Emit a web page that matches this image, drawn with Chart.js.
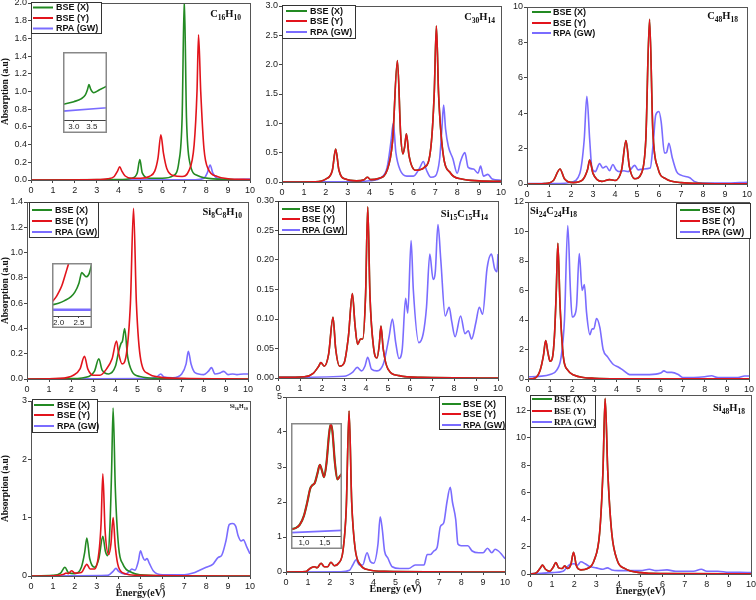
<!DOCTYPE html>
<html><head><meta charset="utf-8">
<script src="https://cdn.jsdelivr.net/npm/chart.js@4/dist/chart.umd.min.js"></script>
<style>
html,body{margin:0;padding:0;background:#fff;overflow:hidden;width:756px;height:600px;position:relative}
canvas{position:absolute}
</style></head><body>
<script>
const GREEN = '#238a23', RED = '#e2141c', BLUE = '#7a6cff';
const seriesLabels = ['BSE (X)', 'BSE (Y)', 'RPA (GW)'];

// ---- C16H10 ----
const c16_bseX = [[0,0],[4,0.005],[4.6,0.02],[4.85,0.08],[4.97,0.23],[5.08,0.08],[5.4,0.02],[6,0.02],[6.5,0.05],[6.75,0.2],[6.9,0.7],[7.0,2.05],[7.1,0.7],[7.25,0.2],[7.6,0.05],[8.5,0.01],[10,0]];
const c16_bseY = [[0,0],[3,0.005],[3.5,0.015],[3.8,0.04],[3.95,0.1],[4.05,0.15],[4.15,0.1],[4.3,0.045],[4.6,0.02],[5.0,0.02],[5.4,0.04],[5.65,0.1],[5.8,0.25],[5.93,0.51],[6.05,0.3],[6.2,0.13],[6.5,0.05],[6.9,0.04],[7.2,0.1],[7.45,0.4],[7.58,1.0],[7.65,1.64],[7.75,1.0],[7.9,0.35],[8.1,0.12],[8.5,0.04],[9,0.015],[10,0.005]];
const c16_rpa = [[0,0],[7.5,0.003],[7.9,0.02],[8.05,0.08],[8.18,0.17],[8.3,0.08],[8.5,0.02],[9,0.005],[10,0.01]];
const c16_inset_bseX = [[2.7,0.23],[3.0,0.27],[3.2,0.31],[3.32,0.37],[3.38,0.45],[3.42,0.52],[3.47,0.45],[3.55,0.4],[3.7,0.44],[3.92,0.5]];
const c16_inset_rpa = [[2.7,0.13],[3.92,0.18]];

// ---- C30H14 ----
const c30_bse = [[0,0],[1.5,0.005],[2.0,0.05],[2.3,0.2],[2.45,0.56],[2.6,0.2],[2.9,0.05],[3.4,0.02],[3.75,0.04],[3.9,0.08],[4.05,0.04],[4.4,0.06],[4.8,0.2],[5.05,0.7],[5.27,2.07],[5.42,0.8],[5.52,0.48],[5.6,0.6],[5.68,0.82],[5.8,0.45],[6.1,0.2],[6.5,0.25],[6.8,0.6],[6.95,1.5],[7.05,2.66],[7.15,1.5],[7.35,0.5],[7.7,0.15],[8.2,0.05],[9,0.02],[10,0.01]];
const c30_rpa = [[0,0.005],[3,0.005],[4,0.02],[4.5,0.07],[4.8,0.25],[4.98,0.7],[5.08,1.0],[5.2,0.5],[5.4,0.2],[5.7,0.1],[6.0,0.1],[6.3,0.25],[6.45,0.35],[6.6,0.2],[6.8,0.08],[7.0,0.1],[7.2,0.4],[7.3,0.9],[7.38,1.31],[7.47,0.9],[7.6,0.6],[7.8,0.4],[8.0,0.15],[8.15,0.35],[8.35,0.5],[8.5,0.25],[8.75,0.22],[8.95,0.15],[9.07,0.27],[9.2,0.1],[9.4,0.13],[9.6,0.05],[10,0.03]];

// ---- C48H18 ----
const c48_bse = [[0,0],[0.8,0.02],[1.2,0.2],[1.5,0.85],[1.7,0.3],[2.1,0.08],[2.5,0.2],[2.75,0.8],[2.85,1.35],[3.0,0.6],[3.4,0.15],[3.75,0.25],[4.0,0.2],[4.3,0.8],[4.5,2.45],[4.65,1.0],[4.9,0.3],[5.2,0.6],[5.4,2.5],[5.57,9.3],[5.72,3.0],[5.95,0.9],[6.3,0.3],[7,0.08],[8,0.03],[10,0.01]];
const c48_rpa = [[0,0.02],[1.5,0.03],[2.0,0.1],[2.4,0.6],[2.6,2.5],[2.72,4.95],[2.85,2.5],[2.95,0.9],[3.1,0.7],[3.3,1.15],[3.45,0.9],[3.6,1.0],[3.75,0.75],[3.9,1.1],[4.05,0.8],[4.2,0.7],[4.4,0.75],[4.6,0.7],[4.9,1.05],[5.05,0.8],[5.3,0.85],[5.6,0.9],[5.75,2.5],[5.85,3.9],[6.0,4.1],[6.1,3.5],[6.25,1.75],[6.35,1.8],[6.45,2.3],[6.6,1.5],[6.8,0.7],[7.0,0.5],[7.4,0.35],[7.6,0.15],[8,0.05],[9,0.05],[10,0.1]];

// ---- Si8C8H10 ----
const si8_bseX = [[0,0],[2,0.003],[2.8,0.02],[3.05,0.06],[3.25,0.16],[3.4,0.07],[3.7,0.04],[4.0,0.1],[4.15,0.22],[4.25,0.28],[4.32,0.3],[4.42,0.4],[4.55,0.18],[4.75,0.06],[5.1,0.02],[6,0.005],[10,0]];
const si8_bseY = [[0,0],[1.5,0.005],[2.1,0.03],[2.4,0.08],[2.6,0.18],[2.75,0.08],[3.0,0.03],[3.3,0.03],[3.6,0.08],[3.85,0.16],[4.05,0.3],[4.15,0.2],[4.3,0.12],[4.5,0.2],[4.68,0.6],[4.82,1.35],[4.95,0.6],[5.15,0.15],[5.5,0.04],[6,0.015],[7,0.005],[10,0]];
const si8_rpa = [[0,0],[5.5,0.003],[5.9,0.02],[6.05,0.04],[6.2,0.015],[6.6,0.01],[7.0,0.04],[7.2,0.12],[7.3,0.22],[7.42,0.12],[7.6,0.05],[8.0,0.035],[8.2,0.06],[8.35,0.09],[8.5,0.04],[8.7,0.045],[8.9,0.06],[9.1,0.035],[9.3,0.04],[9.5,0.035],[9.8,0.04],[10,0.04]];
const si8_inset_bseX = [[1.84,0.21],[2.0,0.24],[2.15,0.29],[2.3,0.36],[2.4,0.45],[2.5,0.62],[2.57,0.82],[2.62,0.78],[2.68,0.74],[2.75,0.8],[2.82,1.0]];
const si8_inset_bseY = [[1.84,0.26],[1.95,0.37],[2.0,0.44],[2.08,0.57],[2.15,0.74],[2.22,0.92],[2.27,1.05]];
const si8_inset_rpa = [[1.84,0.12],[2.82,0.12]];

// ---- Si15C15H14 ----
const si15_bse = [[0,0.001],[1.2,0.002],[1.6,0.008],[1.85,0.02],[1.95,0.026],[2.1,0.02],[2.3,0.04],[2.5,0.103],[2.62,0.05],[2.8,0.02],[3.0,0.025],[3.2,0.07],[3.38,0.143],[3.5,0.09],[3.62,0.057],[3.75,0.066],[3.85,0.066],[3.98,0.14],[4.08,0.29],[4.18,0.14],[4.35,0.05],[4.5,0.034],[4.6,0.055],[4.68,0.088],[4.78,0.05],[5.0,0.015],[5.5,0.004],[6.5,0.001],[10,0]];
const si15_rpa = [[0,0.001],[3,0.003],[3.4,0.01],[3.6,0.018],[3.8,0.012],[3.95,0.02],[4.08,0.035],[4.25,0.015],[4.5,0.012],[4.8,0.025],[5.0,0.06],[5.05,0.07],[5.2,0.1],[5.35,0.06],[5.5,0.033],[5.65,0.05],[5.8,0.135],[5.9,0.11],[6.05,0.233],[6.15,0.15],[6.4,0.06],[6.6,0.075],[6.75,0.12],[6.9,0.21],[7.05,0.167],[7.15,0.18],[7.27,0.26],[7.4,0.2],[7.6,0.105],[7.78,0.12],[7.9,0.095],[8.05,0.07],[8.3,0.105],[8.5,0.075],[8.65,0.08],[8.8,0.066],[9.0,0.095],[9.15,0.12],[9.3,0.108],[9.5,0.185],[9.7,0.21],[9.85,0.185],[9.95,0.18],[10,0.21]];

// ---- Si24C24H18 ----
const si24_bse = [[0,0],[0.3,0.05],[0.55,0.6],[0.7,1.6],[0.8,2.6],[0.9,1.8],[1.0,1.2],[1.1,1.4],[1.2,3.0],[1.28,6.0],[1.35,9.2],[1.45,5.0],[1.6,1.5],[1.8,0.6],[2.1,0.25],[2.5,0.1],[3,0.05],[4,0.02],[10,0.01]];
const si24_rpa = [[0,0.15],[0.5,0.18],[1.0,0.3],[1.3,0.6],[1.5,1.5],[1.65,4.0],[1.8,10.4],[1.92,6.0],[2.0,4.2],[2.1,4.3],[2.2,5.0],[2.32,8.5],[2.45,6.0],[2.55,6.4],[2.65,4.5],[2.8,3.0],[2.9,3.4],[2.98,3.4],[3.1,4.1],[3.25,3.5],[3.4,2.0],[3.6,1.5],[3.85,1.0],[4.1,0.8],[4.3,0.6],[4.6,0.3],[5.0,0.3],[5.5,0.3],[6.0,0.4],[6.15,0.55],[6.3,0.45],[6.5,0.45],[6.8,0.3],[7.0,0.1],[7.5,0.1],[8.0,0.15],[8.3,0.22],[8.6,0.1],[9.0,0.1],[9.5,0.1],[9.8,0.2],[10,0.2]];

// ---- Si16H10 ----
const si16_bseX = [[0,0],[1,0.01],[1.35,0.05],[1.55,0.15],[1.7,0.06],[2.0,0.04],[2.3,0.15],[2.45,0.4],[2.55,0.65],[2.68,0.3],[2.9,0.15],[3.1,0.3],[3.28,0.68],[3.4,0.42],[3.5,0.35],[3.6,0.8],[3.68,1.8],[3.75,2.88],[3.85,1.5],[4.0,0.5],[4.2,0.2],[4.6,0.06],[5.0,0.02],[6,0.005],[10,0]];
const si16_bseY = [[0,0],[1,0.005],[1.5,0.03],[1.6,0.05],[1.7,0.04],[1.85,0.09],[2.0,0.05],[2.3,0.06],[2.55,0.2],[2.7,0.12],[2.9,0.12],[3.1,0.4],[3.2,0.9],[3.28,1.75],[3.38,0.8],[3.55,0.37],[3.65,0.55],[3.75,1.0],[3.85,0.5],[4.0,0.15],[4.3,0.04],[5,0.01],[10,0]];
const si16_rpa = [[0,0],[3.5,0.01],[3.75,0.08],[3.88,0.13],[4.0,0.08],[4.3,0.03],[4.5,0.08],[4.6,0.12],[4.75,0.1],[4.9,0.25],[5.0,0.43],[5.1,0.33],[5.2,0.27],[5.3,0.3],[5.4,0.22],[5.6,0.08],[6.0,0.02],[6.5,0.02],[7.0,0.02],[7.4,0.05],[7.7,0.1],[8.0,0.15],[8.3,0.2],[8.55,0.32],[8.7,0.35],[8.9,0.6],[9.05,0.88],[9.2,0.9],[9.35,0.85],[9.45,0.7],[9.6,0.6],[9.7,0.62],[9.85,0.5],[10,0.38]];

// ---- bottom-middle panel ----
const p8_bse = [[0,0],[0.9,0.01],[1.0,0.05],[1.15,0.12],[1.3,0.15],[1.42,0.12],[1.6,0.25],[1.75,0.15],[1.9,0.15],[2.05,0.28],[2.2,0.18],[2.4,0.25],[2.6,0.6],[2.75,1.8],[2.88,4.6],[3.0,2.0],[3.15,0.7],[3.4,0.2],[3.8,0.06],[4.5,0.02],[10,0]];
const p8_rpa = [[0,0],[2.5,0.005],[2.9,0.05],[3.05,0.2],[3.2,0.35],[3.35,0.2],[3.5,0.2],[3.7,0.55],[3.85,0.3],[4.0,0.25],[4.2,0.8],[4.3,1.58],[4.4,1.2],[4.5,0.6],[4.65,0.4],[4.85,0.15],[5.2,0.1],[5.6,0.1],[5.9,0.2],[6.1,0.2],[6.3,0.2],[6.45,0.5],[6.6,0.5],[6.75,0.6],[6.9,0.7],[7.05,1.3],[7.2,1.4],[7.35,2.0],[7.5,2.42],[7.6,2.0],[7.75,1.5],[7.85,0.8],[8.0,0.75],[8.3,0.75],[8.5,0.6],[8.8,0.55],[9.0,0.55],[9.2,0.68],[9.4,0.55],[9.55,0.65],[9.7,0.6],[9.85,0.5],[10,0.38]];
const p8_inset_bse = [[0.69,0.06],[0.8,0.07],[0.9,0.1],[1.0,0.18],[1.08,0.3],[1.15,0.42],[1.2,0.45],[1.26,0.47],[1.32,0.55],[1.38,0.63],[1.43,0.58],[1.48,0.52],[1.54,0.65],[1.6,0.9],[1.64,0.99],[1.68,0.93],[1.74,0.65],[1.8,0.5],[1.86,0.53],[1.91,0.55]];
const p8_inset_rpa = [[0.69,0.03],[1.91,0.05]];

// ---- Si48H18 ----
const si48_bse = [[0,0],[0.3,0.1],[0.45,0.4],[0.57,0.65],[0.7,0.35],[0.9,0.2],[1.05,0.5],[1.17,0.85],[1.3,0.45],[1.45,0.4],[1.57,0.6],[1.7,0.4],[1.85,0.7],[1.97,1.6],[2.1,0.6],[2.3,0.3],[2.6,0.4],[2.9,1.0],[3.15,3.0],[3.3,7.5],[3.4,12.9],[3.52,7.5],[3.7,3.0],[3.95,1.0],[4.3,0.4],[5,0.1],[6,0.03],[10,0.01]];
const si48_rpa = [[0,0.02],[0.5,0.05],[1.0,0.1],[1.5,0.2],[1.8,0.7],[2.0,0.75],[2.15,0.65],[2.3,0.9],[2.5,0.75],[2.7,0.55],[3.0,0.45],[3.3,0.35],[3.5,0.45],[3.7,0.3],[4.0,0.25],[4.5,0.25],[5.0,0.25],[5.4,0.35],[5.7,0.25],[6.2,0.3],[6.6,0.2],[7.0,0.2],[7.4,0.2],[7.75,0.35],[8.0,0.2],[8.5,0.2],[9,0.12],[9.5,0.12],[10,0.1]];

// inset tick labels
const inset1Ticks = [3.0, 3.5];
const inset4Ticks = [2.0, 2.5];
const inset8Ticks = [1.0, 1.5];

const SANS = '"Liberation Sans", Arial, sans-serif';
const SERIF = '"Liberation Serif", "DejaVu Serif", serif';

function drawFormula(ctx, text, x, y, size, align){
  const parts = text.match(/[A-Za-z]+|\d+/g);
  const sub = size * 0.72;
  const meas = []; let w = 0;
  for (const p of parts){
    const isNum = /\d/.test(p);
    ctx.font = 'bold ' + (isNum ? sub : size) + 'px ' + SERIF;
    const m = ctx.measureText(p).width; meas.push([p, isNum, m]); w += m;
  }
  let cx = align === 'right' ? x - w : x;
  ctx.textAlign = 'left'; ctx.textBaseline = 'alphabetic'; ctx.fillStyle = '#111';
  for (const [p, isNum, m] of meas){
    ctx.font = 'bold ' + (isNum ? sub : size) + 'px ' + SERIF;
    ctx.fillText(p, cx, isNum ? y + size * 0.25 : y);
    cx += m;
  }
}

const decoPlugin = {
  id: 'deco',
  beforeDraw(chart, args, o){
    if (o.bg){ const c = chart.ctx; c.save(); c.fillStyle = '#fff'; c.fillRect(0,0,chart.width,chart.height); c.restore(); }
  },
  afterDatasetsDraw(chart, args, o){
    const ctx = chart.ctx, a = chart.chartArea;
    ctx.save();
    if (o.frame){
      ctx.strokeStyle = o.frame; ctx.lineWidth = 1;
      ctx.strokeRect(Math.round(a.left)+0.5, Math.round(a.top)+0.5, Math.round(a.right-a.left), Math.round(a.bottom-a.top));
    }
    if (o.outer){
      ctx.strokeStyle = o.outer; ctx.lineWidth = 1.5;
      ctx.strokeRect(0.75, 0.75, chart.width-1.5, chart.height-1.5);
    }
    const ox = o.ox || 0, oy = o.oy || 0;
    if (o.legend){
      const L = o.legend;
      if (L.box){
        ctx.fillStyle = '#fff';
        ctx.fillRect(L.box[0]-ox, L.box[1]-oy, L.box[2]-L.box[0], L.box[3]-L.box[1]);
        ctx.strokeStyle = '#333'; ctx.lineWidth = 1;
        ctx.strokeRect(L.box[0]-ox+0.5, L.box[1]-oy+0.5, L.box[2]-L.box[0], L.box[3]-L.box[1]);
      }
      chart.data.datasets.forEach((ds, i) => {
        const y = L.rows[i] - oy;
        ctx.strokeStyle = ds.borderColor; ctx.lineWidth = 2;
        ctx.beginPath(); ctx.moveTo(L.x1-ox, y); ctx.lineTo(L.x2-ox, y); ctx.stroke();
        ctx.fillStyle = '#111';
        ctx.font = 'bold ' + (L.size || 9) + 'px ' + (L.serif ? SERIF : SANS);
        ctx.textAlign = 'left'; ctx.textBaseline = 'middle';
        ctx.fillText(ds.label, L.tx-ox, y+0.5);
      });
    }
    if (o.title){
      const t = o.title;
      drawFormula(ctx, t.text, t.x-ox, t.y-oy, t.size, t.align);
    }
    ctx.restore();
  }
};
Chart.register(decoPlugin);

// builds the ticks: either a given list, or every `step` inside the axis range
function tickBuilder(step, list){
  return function(axis){
    if (list){ axis.ticks = list.map(v => ({value: v})); return; }
    const out = [];
    for (let k = Math.ceil(axis.min/step - 1e-9); k*step <= axis.max + 1e-9; k++) out.push({value: +(k*step).toFixed(6)});
    axis.ticks = out;
  };
}

function makeChart(p){
  const yw = p.yw, pt = p.pt ?? 8, pr = p.pr ?? 10, xh = p.xh;
  const cv = document.createElement('canvas');
  const W = (p.R - p.L) + yw + pr, H = (p.B - p.T) + pt + xh;
  const left = p.L - yw, top = p.T - pt;
  cv.width = W; cv.height = H;
  cv.style.left = left + 'px'; cv.style.top = top + 'px';
  cv.style.width = W + 'px'; cv.style.height = H + 'px';
  document.body.appendChild(cv);
  const tickFont = {family: SANS, size: p.tickSize || 9};
  const colors = [GREEN, RED, BLUE];
  const orders = [2, 1, 3];
  const datasets = p.series.map((s, i) => ({
    label: s.label,
    data: s.data.map(d => ({x: d[0], y: d[1]})),
    borderColor: s.color || colors[i],
    borderWidth: s.width || 1.6,
    pointRadius: 0,
    cubicInterpolationMode: 'monotone',
    order: s.order ?? orders[i],
    fill: false
  }));
  return new Chart(cv, {
    type: 'line',
    data: {datasets},
    options: {
      responsive: false, animation: false, devicePixelRatio: 1,
      layout: {padding: {top: pt, right: pr, left: 0, bottom: 0}},
      plugins: {
        legend: {display: false}, tooltip: {enabled: false},
        deco: {frame: p.noFrame ? null : '#555', outer: p.outer || null, bg: !!p.bg,
               legend: p.legend, title: p.title, ox: left, oy: top}
      },
      scales: {
        x: {
          type: 'linear', min: p.xMin, max: p.xMax,
          ticks: {font: {family: SANS, size: p.xTickSize || tickFont.size}, color: '#222', padding: p.xPad ?? 2, maxRotation: 0, minRotation: 0, autoSkip: false,
                  callback: v => { const s = v.toFixed(p.xDec || 0); return p.commaX ? s.replace('.', ',') : s; }},
          grid: {display: true, drawOnChartArea: false, drawTicks: true, tickLength: p.tickLen ?? 3, color: '#444'},
          border: {display: !!p.xBorder, color: '#444'},
          title: p.xTitle ? {display: true, text: p.xTitle, font: {family: SERIF, size: 10, weight: 'bold'}, color: '#111', padding: 0} : {display: false},
          afterBuildTicks: tickBuilder(p.xStep, p.xTicks),
          afterFit: s => { s.height = xh; }
        },
        y: {
          type: 'linear', min: p.yMin ?? 0, max: p.yMax, display: p.yDisplay ?? true,
          ticks: {font: tickFont, color: '#222', padding: 1, autoSkip: false,
                  callback: v => v.toFixed(p.yDec || 0)},
          grid: {display: true, drawOnChartArea: false, drawTicks: true, tickLength: 3, color: '#444'},
          border: {display: false},
          title: p.yTitle ? {display: true, text: p.yTitle, font: {family: SERIF, size: 9.5, weight: 'bold'}, color: '#111', padding: 0} : {display: false},
          afterBuildTicks: tickBuilder(p.yStep),
          afterFit: s => { s.width = yw; }
        }
      }
    }
  });
}

const S = (a, b, c) => [{label: seriesLabels[0], data: a}, {label: seriesLabels[1], data: b}, {label: seriesLabels[2], data: c}];

// Panel 1
makeChart({L:31,R:250,T:3,B:180,yw:31,xh:14,xMin:0,xMax:10,xStep:1,yMax:2,yStep:0.2,yDec:1,yTitle:'Absorption (a.u)',
  series:S(c16_bseX,c16_bseY,c16_rpa),
  legend:{box:[31,2,101,33],rows:[7.5,18,28.5],x1:33,x2:53,tx:56},
  title:{text:'C16H10',x:241,y:17,size:10.5,align:'right'}});
// Panel 2
makeChart({L:282,R:501,T:6,B:182,yw:30,xh:14,xMin:0,xMax:10,xStep:1,yMax:3,yStep:0.5,yDec:1,
  series:S(c30_bse,c30_bse,c30_rpa),
  legend:{box:[282,5,355,38],rows:[11,21,32],x1:286,x2:307,tx:310},
  title:{text:'C30H14',x:495,y:20,size:10.5,align:'right'}});
// Panel 3
makeChart({L:527,R:747,T:7,B:184,yw:26,xh:14,xMin:0,xMax:10,xStep:1,yMax:10,yStep:2,yDec:0,
  series:S(c48_bse,c48_bse,c48_rpa),
  legend:{rows:[12,23,33],x1:532,x2:551,tx:553},
  title:{text:'C48H18',x:738,y:19,size:10.5,align:'right'}});
// Panel 4
makeChart({L:27,R:248,T:202,B:379,yw:27,xh:14,xMin:0,xMax:10,xStep:1,yMax:1.4,yStep:0.2,yDec:1,yTitle:'Absorption (a.u)',
  series:S(si8_bseX,si8_bseY,si8_rpa),
  legend:{box:[29,202,98,237],rows:[210,221,232],x1:32,x2:52,tx:55},
  title:{text:'Si8C8H10',x:242,y:215,size:10.5,align:'right'}});
// Panel 5
makeChart({L:278,R:498,T:201,B:378,yw:30,xh:14,xMin:0,xMax:10,xStep:1,yMax:0.3,yStep:0.05,yDec:2,
  series:S(si15_bse,si15_bse,si15_rpa),
  legend:{box:[278,201,346,234],rows:[209,219,230],x1:282,x2:300,tx:302},
  title:{text:'Si15C15H14',x:488,y:217,size:10.5,align:'right'}});
// Panel 6
makeChart({L:528,R:749,T:202,B:379,yw:26,xh:14,xMin:0,xMax:10,xStep:1,yMax:12,yStep:2,yDec:0,
  series:S(si24_bse,si24_bse,si24_rpa),
  legend:{box:[676,203,750,238],rows:[210,221,232],x1:680,x2:700,tx:702},
  title:{text:'Si24C24H18',x:530,y:214,size:10.5,align:'left'}});
// Panel 7
makeChart({L:31,R:250,T:401,B:576,yw:31,xh:23,xMin:0,xMax:10,xStep:1,yMax:3,yStep:1,yDec:0,yTitle:'Absorption (a.u)',xTitle:'Energy(eV)',
  series:S(si16_bseX,si16_bseY,si16_rpa),
  legend:{box:[32,399,97,432],rows:[405,415,426],x1:34,x2:54,tx:57},
  title:{text:'Si16H10',x:248,y:408,size:6,align:'right'}});
// Panel 8
makeChart({L:286,R:505,T:397,B:572,yw:30,xh:23,xMin:0,xMax:10,xStep:1,yMax:5,yStep:1,yDec:0,xTitle:'Energy (eV)',
  series:S(p8_bse,p8_bse,p8_rpa),
  legend:{box:[439,396,505,429],rows:[404,414,425],x1:442,x2:461,tx:463}});
// Panel 9
makeChart({L:530,R:751,T:395,B:574,yw:28,xh:23,xMin:0,xMax:10,xStep:1,yMax:13.15,yStep:2,yDec:0,xTitle:'Energy(eV)',
  series:S(si48_bse,si48_bse,si48_rpa),
  legend:{box:[530,395,595,427],rows:[399,411,422],x1:532,x2:552,tx:554,serif:true,size:9},
  title:{text:'Si48H18',x:745,y:411,size:10.5,align:'right'}});

// Insets
makeChart({L:63,R:107,T:52,B:120,yw:0,pt:0,pr:0,xh:13,xMin:2.7,xMax:3.92,xTicks:inset1Ticks,xDec:1,yMax:1,yStep:0.5,yDisplay:false,
  xTickSize:8,xPad:0,tickLen:2,xBorder:true,noFrame:true,outer:'#888',bg:true,
  series:[{label:'BSE (X)',data:c16_inset_bseX,color:GREEN},{label:'RPA (GW)',data:c16_inset_rpa,color:BLUE}]});
makeChart({L:52,R:92,T:263,B:316,yw:0,pt:0,pr:0,xh:12,xMin:1.84,xMax:2.82,xTicks:inset4Ticks,xDec:1,yMax:1,yStep:0.5,yDisplay:false,
  xTickSize:8,xPad:0,tickLen:2,xBorder:true,noFrame:true,outer:'#888',bg:true,
  series:[{label:'BSE (X)',data:si8_inset_bseX,color:GREEN},{label:'BSE (Y)',data:si8_inset_bseY,color:RED},{label:'RPA (GW)',data:si8_inset_rpa,color:BLUE,width:2.5}]});
makeChart({L:291,R:342,T:423,B:536,yw:0,pt:0,pr:0,xh:13,xMin:0.69,xMax:1.91,xTicks:inset8Ticks,xDec:1,yMax:1,yStep:0.5,yDisplay:false,
  xTickSize:8,xPad:0,tickLen:2,xBorder:true,noFrame:true,outer:'#888',bg:true,commaX:true,
  series:[{label:'BSE (X)',data:p8_inset_bse,color:GREEN,width:2.2},{label:'BSE (Y)',data:p8_inset_bse,color:RED},{label:'RPA (GW)',data:p8_inset_rpa,color:BLUE}]});
</script>
</body></html>
